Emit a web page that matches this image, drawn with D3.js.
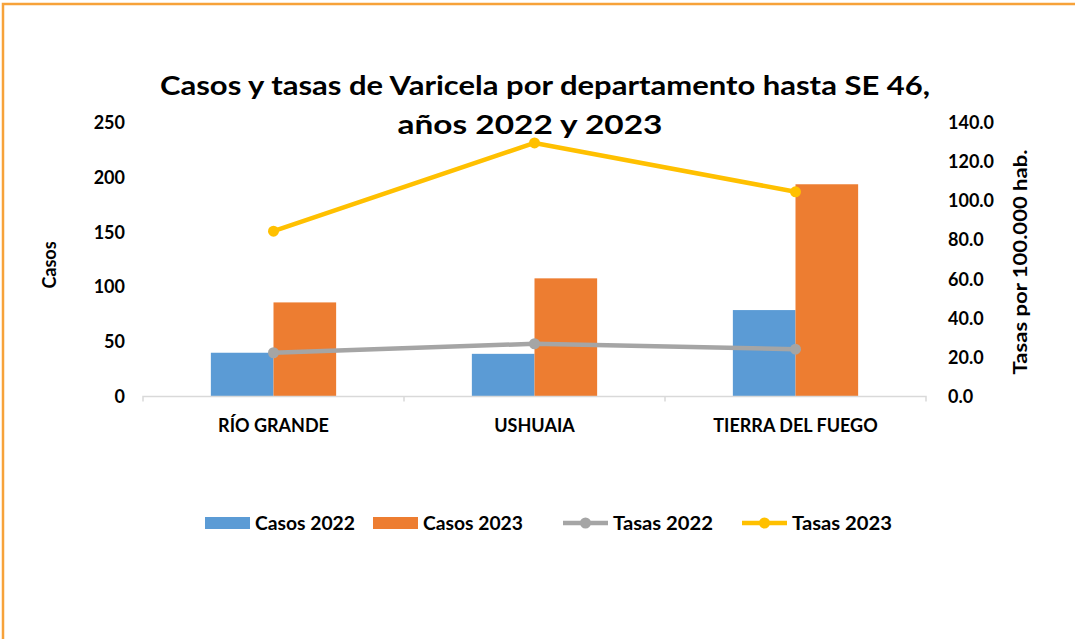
<!DOCTYPE html>
<html>
<head>
<meta charset="utf-8">
<script src="https://cdn.jsdelivr.net/npm/d3@7"></script>
<style>
  body { margin: 0; background: #fff; }
  text { font-family: Lato, "Open Sans", sans-serif; font-weight: bold; fill: #000; }
</style>
</head>
<body>
<div class="chart"></div>
<script>
// data
var departamentos = ["RÍO GRANDE", "USHUAIA", "TIERRA DEL FUEGO"];
var casos2022 = [40, 39, 79];
var casos2023 = [86, 108, 194];
var tasas2022 = [22.4, 27.0, 24.2];
var tasas2023 = [84.6, 129.8, 104.8];
var casosTicks = [0, 50, 100, 150, 200, 250];
var tasasTicks = [0, 20, 40, 60, 80, 100, 120, 140];

var width = 1075, height = 639;
var margin = { top: 123, left: 143, right: 149, bottom: 242 };

var svg = d3.select("div.chart")
    .append("svg")
    .attr("width", width)
    .attr("height", height);

// orange frame (only top and left are visible in the picture)
svg.append("path")
    .attr("d", "M3,640 L3,4 L1076,4")
    .attr("fill", "none")
    .attr("stroke", "#F7A23A")
    .attr("stroke-width", 2.5);

var x = d3.scaleBand()
    .domain(departamentos)
    .range([margin.left, width - margin.right]);

var x1 = d3.scaleBand()
    .domain(["2022", "2023"])
    .range([0, x.bandwidth() * 0.48]);

var yCasos = d3.scaleLinear()
    .domain([0, 250])
    .range([height - margin.bottom - 0.5, margin.top]);

var yTasas = d3.scaleLinear()
    .domain([0, 140])
    .range([height - margin.bottom - 0.5, margin.top]);

// title
var title = svg.append("text")
    .attr("text-anchor", "middle")
    .style("font-size", "27px");
title.append("tspan").attr("x", 545).attr("y", 95)
    .attr("textLength", 770)
    .attr("lengthAdjust", "spacingAndGlyphs")
    .text("Casos y tasas de Varicela  por departamento hasta SE 46,");
title.append("tspan").attr("x", 530).attr("y", 134)
    .attr("textLength", 265)
    .attr("lengthAdjust", "spacingAndGlyphs")
    .text("años 2022 y 2023");

// bars
var offset = (x.bandwidth() - x1.range()[1]) / 2;
var barSeries = [
    { key: "2022", values: casos2022, color: "#5B9BD5" },
    { key: "2023", values: casos2023, color: "#ED7D31" }
];
barSeries.forEach(function (s) {
    svg.append("g").selectAll("rect")
        .data(s.values)
        .enter()
        .append("rect")
        .attr("x", function (d, i) { return x(departamentos[i]) + offset + x1(s.key); })
        .attr("width", x1.bandwidth())
        .attr("y", function (d) { return yCasos(d); })
        .attr("height", function (d) { return yCasos(0) - yCasos(d); })
        .attr("fill", s.color);
});

// x axis
var xAxis = svg.append("g")
    .attr("transform", "translate(0," + yCasos(0) + ")")
    .call(d3.axisBottom(x).tickSize(0).tickPadding(0));
xAxis.select(".domain").remove();
xAxis.selectAll("text")
    .attr("y", 23)
    .style("font-size", "18px");
svg.append("path")
    .attr("d", "M" + margin.left + "," + (yCasos(0) + 5) + "V" + yCasos(0) + "H" + (width - margin.right) + "V" + (yCasos(0) + 5))
    .attr("fill", "none")
    .attr("stroke", "#D9D9D9")
    .attr("stroke-width", 1.5);
svg.append("g").selectAll("line")
    .data(departamentos.slice(1))
    .enter()
    .append("line")
    .attr("x1", function (d) { return x(d); })
    .attr("x2", function (d) { return x(d); })
    .attr("y1", yCasos(0))
    .attr("y2", yCasos(0) + 5)
    .attr("stroke", "#D9D9D9")
    .attr("stroke-width", 1.5);

// left axis
var yAxisL = svg.append("g")
    .attr("transform", "translate(" + margin.left + ",0)")
    .call(d3.axisLeft(yCasos).tickValues(casosTicks).tickSize(0).tickPadding(18));
yAxisL.select(".domain").remove();
yAxisL.selectAll("text").style("font-size", "18px");

// right axis
var yAxisR = svg.append("g")
    .attr("transform", "translate(" + (width - margin.right) + ",0)")
    .call(d3.axisRight(yTasas).tickValues(tasasTicks).tickSize(0).tickPadding(22).tickFormat(d3.format(".1f")));
yAxisR.select(".domain").remove();
yAxisR.selectAll("text").style("font-size", "18px");

// axis titles
svg.append("text")
    .attr("transform", "translate(56,265) rotate(-90)")
    .attr("text-anchor", "middle")
    .style("font-size", "18px")
    .text("Casos");
svg.append("text")
    .attr("transform", "translate(1027,262) rotate(-90)")
    .attr("text-anchor", "middle")
    .style("font-size", "19px")
    .attr("textLength", 225)
    .attr("lengthAdjust", "spacingAndGlyphs")
    .text("Tasas por 100.000 hab.");

// lines
var lineSeries = [
    { values: tasas2022, color: "#A5A5A5" },
    { values: tasas2023, color: "#FFC000" }
];
var line = d3.line()
    .x(function (d, i) { return x(departamentos[i]) + x.bandwidth() / 2; })
    .y(function (d) { return yTasas(d); });
lineSeries.forEach(function (s) {
    svg.append("path")
        .datum(s.values)
        .attr("d", line)
        .attr("fill", "none")
        .attr("stroke", s.color)
        .attr("stroke-width", 4.5)
        .attr("stroke-linejoin", "round");
    svg.append("g").selectAll("circle")
        .data(s.values)
        .enter()
        .append("circle")
        .attr("cx", function (d, i) { return x(departamentos[i]) + x.bandwidth() / 2; })
        .attr("cy", function (d) { return yTasas(d); })
        .attr("r", 5.5)
        .attr("fill", s.color);
});

// legend
var legendItems = [
    { label: "Casos 2022", color: "#5B9BD5", type: "bar", x: 205 },
    { label: "Casos 2023", color: "#ED7D31", type: "bar", x: 373 },
    { label: "Tasas 2022", color: "#A5A5A5", type: "line", x: 563 },
    { label: "Tasas 2023", color: "#FFC000", type: "line", x: 742 }
];
var legend = svg.append("g").selectAll("g")
    .data(legendItems)
    .enter()
    .append("g")
    .attr("transform", function (d) { return "translate(" + d.x + ",523)"; });
legend.filter(function (d) { return d.type === "bar"; })
    .append("rect")
    .attr("x", 0).attr("y", -6)
    .attr("width", 45).attr("height", 12)
    .attr("fill", function (d) { return d.color; });
legend.filter(function (d) { return d.type === "line"; })
    .append("line")
    .attr("x1", 0).attr("x2", 45)
    .attr("stroke", function (d) { return d.color; })
    .attr("stroke-width", 4.5);
legend.filter(function (d) { return d.type === "line"; })
    .append("circle")
    .attr("cx", 22.5)
    .attr("r", 5.5)
    .attr("fill", function (d) { return d.color; });
legend.append("text")
    .attr("x", 50)
    .attr("y", 7)
    .style("font-size", "19px")
    .attr("textLength", 100)
    .attr("lengthAdjust", "spacingAndGlyphs")
    .text(function (d) { return d.label; });
</script>
</body>
</html>
